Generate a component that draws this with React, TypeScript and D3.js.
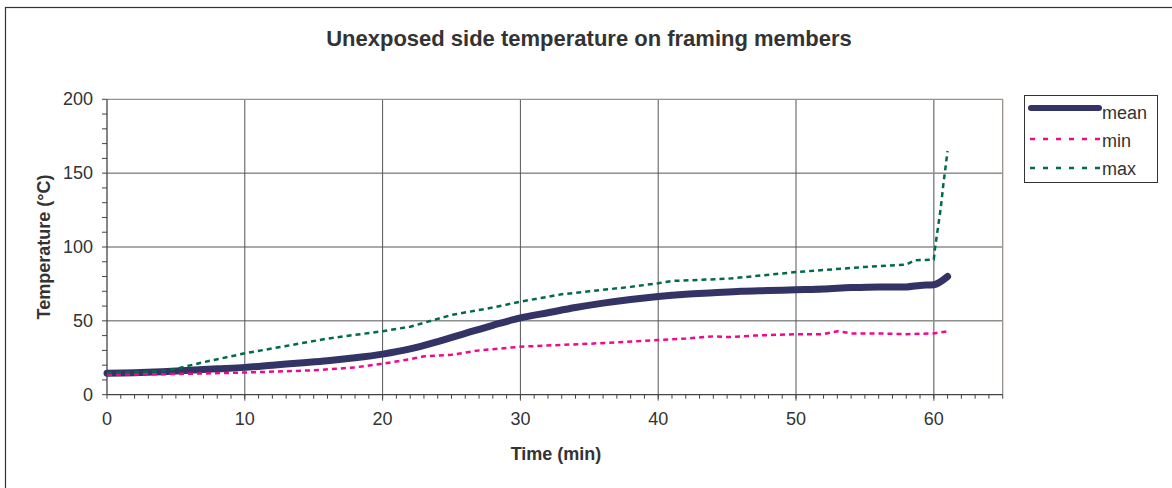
import React from "react";
import * as d3 from "d3";

const title = "Unexposed side temperature on framing members";
const xTicks = [0, 10, 20, 30, 40, 50, 60];
const yTicks = [0, 50, 100, 150, 200];

const meanTime = [0, 2, 4, 6, 8, 10, 12, 14, 16, 18, 20, 22, 24, 26, 28, 30, 32, 34, 36, 38, 40, 42, 44, 46, 48, 50, 52, 54, 56, 58, 59, 60, 61];
const meanValues = [14.5, 14.8, 15.5, 16.5, 17.5, 18.5, 20, 21.5, 23, 25, 27.5, 31, 36, 41.5, 47, 52, 55.5, 59, 62, 64.5, 66.5, 68, 69, 70, 70.5, 71, 71.5, 72.5, 73, 73, 74, 74.5, 80];

const minTime = [0, 5, 10, 15, 18, 20, 22, 23, 25, 27, 30, 35, 40, 42, 44, 45, 47, 50, 52, 53, 54, 56, 58, 60, 61];
const minValues = [13.5, 14, 15, 16.5, 18.5, 21, 24, 26, 27, 30, 32.5, 34.5, 37, 38, 39.5, 39, 40, 41, 41, 43, 41.5, 41.5, 41, 41.5, 43];

const maxTime = [0, 3, 4, 5, 7, 10, 13, 16, 20, 22, 25, 28, 30, 33, 35, 38, 40, 41, 45, 50, 55, 58, 58.6, 60, 60.1, 60.3, 60.5, 60.7, 61];
const maxValues = [15, 15.5, 16, 17.5, 22, 28, 33, 38, 43, 46, 54, 59, 63, 68, 70, 73, 75.5, 77, 78.5, 83, 86.5, 88, 91, 91.5, 100, 113, 126, 143, 165];

const seriesNames = ["mean", "min", "max"];

export default function App() {
  const W = 1172, H = 488;
  const left = 107, right = 1002.7, top = 99.3, bottom = 394.7;
  const x = d3.scaleLinear().domain([0, 65]).range([left, right]);
  const y = d3.scaleLinear().domain([0, 200]).range([bottom, top]);
  const font = "'Liberation Sans', Arial, sans-serif";

  const mk = (ts: number[], vs: number[], curve: any) =>
    d3.line<number>().x((_, i) => x(ts[i])).y((v) => y(v)).curve(curve)(vs) || "";

  const meanPath = mk(meanTime, meanValues, d3.curveMonotoneX);
  const minPath = mk(minTime, minValues, d3.curveLinear);
  const maxPath = mk(maxTime, maxValues, d3.curveLinear);

  const minorX = d3.range(0, 66, 1);
  const minorY = d3.range(0, 201, 10);

  const pink = "#ee0a8c";
  const green = "#006b45";
  const navy = "#333366";
  const legendLineY = [108, 139, 168];
  const legendTextY = [119, 147, 175];

  return (
    <svg width={W} height={H} style={{ position: "absolute", left: 0, top: 0, background: "#fff" }} fontFamily={font}>
      <rect x={5.5} y={7.5} width={W} height={H} fill="#fff" stroke="#333" strokeWidth={1.2} />
      <text x={589} y={46} textAnchor="middle" fontSize={22} fontWeight="bold" fill="#333">{title}</text>

      {yTicks.filter(v => v > 0 && v < 200).map(v => (
        <line key={"gy" + v} x1={left} x2={right} y1={y(v)} y2={y(v)} stroke="#555" strokeWidth={1} />
      ))}
      {xTicks.filter(v => v > 0).map(v => (
        <line key={"gx" + v} x1={x(v)} x2={x(v)} y1={top} y2={bottom + 6} stroke={v === 60 ? "#8a8a8a" : "#555"} strokeWidth={v === 60 ? 1.5 : 1} />
      ))}
      <line x1={left} x2={right} y1={top} y2={top} stroke="#9a8f8a" strokeWidth={1.3} />
      <line x1={right} x2={right} y1={top} y2={bottom} stroke="#9a8f8a" strokeWidth={1.3} />
      <line x1={left} x2={left} y1={top} y2={bottom} stroke="#444" strokeWidth={1.3} />
      <line x1={left} x2={right} y1={bottom} y2={bottom} stroke="#444" strokeWidth={1.3} />

      {minorY.map(v => (
        <line key={"ty" + v} x1={left - 5} x2={left} y1={y(v)} y2={y(v)} stroke="#444" strokeWidth={1} />
      ))}
      {minorX.map(v => (
        <line key={"tx" + v} x1={x(v)} x2={x(v)} y1={bottom} y2={bottom + 4} stroke="#444" strokeWidth={1} />
      ))}

      {yTicks.map(v => (
        <text key={"ly" + v} x={left - 14} y={y(v) + 6} textAnchor="end" fontSize={18} fill="#333">{v}</text>
      ))}
      {xTicks.map(v => (
        <text key={"lx" + v} x={x(v)} y={425} textAnchor="middle" fontSize={18} fill="#333">{v}</text>
      ))}

      <text x={556} y={460} textAnchor="middle" fontSize={18} fontWeight="bold" fill="#333">Time (min)</text>
      <text transform={`translate(50,247) rotate(-90)`} textAnchor="middle" fontSize={18} fontWeight="bold" fill="#333">Temperature (°C)</text>

      <path d={meanPath} fill="none" stroke={navy} strokeWidth={7} strokeLinecap="round" strokeLinejoin="round" />
      <path d={minPath} fill="none" stroke={pink} strokeWidth={2.5} strokeDasharray="5,4" />
      <path d={maxPath} fill="none" stroke={green} strokeWidth={2.5} strokeDasharray="5,4" />

      <rect x={1024.5} y={95.5} width={133} height={87} fill="#fff" stroke="#333" strokeWidth={1} />
      {seriesNames.map((n, i) => {
        const ly = legendLineY[i];
        return (
          <g key={n}>
            {i === 0 ? (
              <line x1={1031} x2={1099} y1={ly} y2={ly} stroke={navy} strokeWidth={6} strokeLinecap="round" />
            ) : (
              <line x1={1030} x2={1100} y1={ly} y2={ly} stroke={i === 1 ? pink : green} strokeWidth={2.5} strokeDasharray="5,8" />
            )}
            <text x={1102} y={legendTextY[i]} fontSize={18} fill="#333">{n}</text>
          </g>
        );
      })}
    </svg>
  );
}
